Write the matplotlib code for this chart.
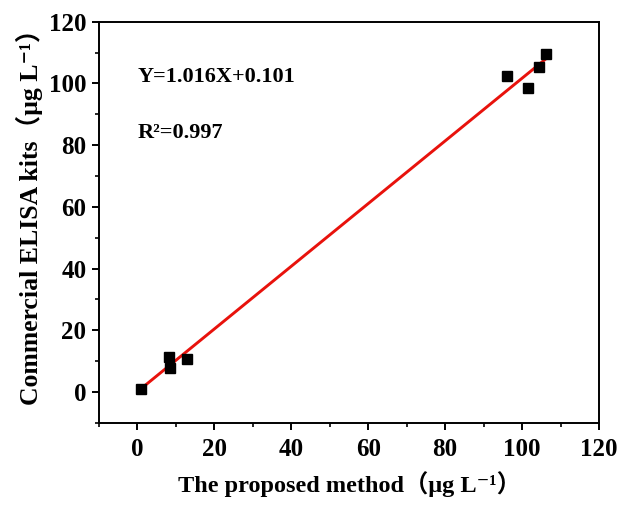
import numpy as np
import matplotlib
matplotlib.use("Agg")
import matplotlib.pyplot as plt
from matplotlib.ticker import MultipleLocator

# data
proposed = [1.0, 8.3, 8.6, 12.8, 96.1, 101.6, 104.4, 106.3]
elisa = [1.0, 11.4, 7.8, 10.7, 102.3, 98.4, 105.2, 109.7]
slope = 1.016
intercept = 0.101
r_squared = 0.997

fonts = ["Liberation Serif", "Noto Sans CJK SC", "DejaVu Serif"]
plt.rcParams["font.family"] = fonts
plt.rcParams["font.weight"] = "bold"

fig = plt.figure(figsize=(6.22, 5.07), dpi=100)
ax = fig.add_axes([0.159, 0.166, 0.804, 0.791])

# fit line across the data range
x_fit = np.array([min(proposed), max(proposed)])
ax.plot(x_fit, slope * x_fit + intercept, color="#e8120c", linewidth=2.1, zorder=2)
ax.plot(proposed, elisa, "s", color="black", markersize=6.8, zorder=3)

ax.set_xlim(-10, 120)
ax.set_ylim(-10, 120)
ax.xaxis.set_major_locator(MultipleLocator(20))
ax.xaxis.set_minor_locator(MultipleLocator(10))
ax.yaxis.set_major_locator(MultipleLocator(20))
ax.yaxis.set_minor_locator(MultipleLocator(10))
ax.tick_params(which="major", direction="out", length=5, width=1.4, labelsize=18, pad=4)
ax.tick_params(axis="x", which="major", pad=6)
ax.tick_params(which="minor", direction="out", length=3, width=1.2)
for s in ax.spines.values():
    s.set_linewidth(1.4)

ax.set_xlabel("The proposed method（μg L⁻¹）", fontsize=17.5, fontweight="bold", labelpad=7)
ax.set_ylabel("Commercial ELISA kits（μg L⁻¹）", fontsize=18.5, fontweight="bold")
ax.yaxis.set_label_coords(-0.112, 0.53)

ax.text(0.078, 0.863, f"Y={slope}X+{intercept}", transform=ax.transAxes,
        fontsize=16, fontweight="bold", va="center")
ax.text(0.078, 0.723, f"R²={r_squared}", transform=ax.transAxes,
        fontsize=16, fontweight="bold", va="center")

plt.savefig("out.png", dpi=100)
